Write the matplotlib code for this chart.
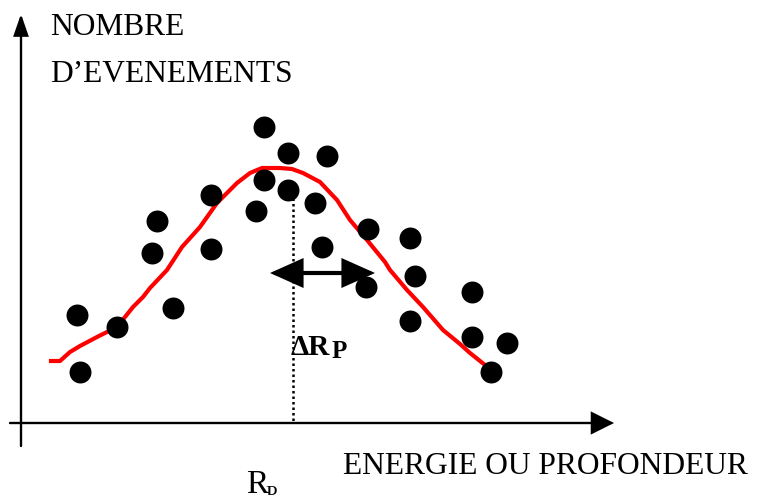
import matplotlib
matplotlib.use("Agg")
import matplotlib.pyplot as plt
from matplotlib.patches import FancyArrowPatch

# scatter of measured events (pixel-like coordinates of the sketch)
points_x = [77, 80, 117, 157, 152, 173, 211, 211, 264, 288, 264, 288, 256,
            315, 327, 322, 368, 366, 410, 415, 410, 472, 472, 507, 491]
points_y = [315, 372, 327, 221, 253, 308, 195, 249, 127, 153, 180, 190, 211,
            203, 156, 247, 229, 287, 238, 276, 321, 292, 337, 343, 372]

# hand drawn fit curve
curve_x = [51, 60, 70, 80, 97, 117, 133, 143, 150, 167, 182, 200, 217, 237,
           250, 262, 280, 292, 303, 320, 337, 350, 367, 385, 390, 407, 423,
           443, 460, 470, 485]
curve_y = [361, 361, 352, 346, 337, 327, 307, 297, 288, 270, 247, 227, 203,
           183, 173, 168, 168, 169, 173, 182, 200, 220, 240, 262, 270, 290,
           307, 330, 344, 353, 365]

rp = 293          # position of the peak
peak_y = 198
axis_y = 423
axis_x = 21
dr_left, dr_right, dr_y = 270, 375, 273

plt.rcParams["font.family"] = ["Liberation Serif", "DejaVu Serif"]

fig = plt.figure(figsize=(7.58, 4.95), dpi=100)
ax = fig.add_axes([0, 0, 1, 1])
ax.set_xlim(0, 758)
ax.set_ylim(495, 0)
ax.axis("off")


def arrow(p0, p1, style, lw, hl, hw):
    a = FancyArrowPatch(p0, p1, arrowstyle=f"{style},head_length={hl},head_width={hw}",
                        mutation_scale=1, color="black", lw=lw,
                        shrinkA=0, shrinkB=0, joinstyle="miter")
    ax.add_patch(a)


# axes arrows
arrow((10, axis_y), (614, axis_y), "-|>", 1.7, 14, 7)
arrow((axis_x, 446), (axis_x, 14), "-|>", 1.7, 13, 4.5)

# red curve
ax.plot(curve_x, curve_y, color="#ff0000", lw=3, solid_joinstyle="round")

# dots
ax.scatter(points_x, points_y, s=250, color="black", zorder=3, linewidths=0)

# dotted line at Rp
ax.plot([rp, rp], [peak_y, axis_y], color="black", lw=1.8,
        dashes=[1, 1.2], zorder=2)

# width arrow
arrow((dr_left, dr_y), (dr_right, dr_y), "<|-|>", 3, 19, 8.5)

# texts
fs = 22.7
ax.text(50, 35, "NOMBRE", fontsize=fs, va="baseline", ha="left")
ax.text(50, 82, "D\u2019EVENEMENTS", fontsize=fs, va="baseline", ha="left")
ax.text(343, 474, "ENERGIE OU PROFONDEUR", fontsize=fs, va="baseline", ha="left")

ax.text(246, 493, "R", fontsize=24, va="baseline", ha="left")
ax.text(265, 500, "P", fontsize=15, va="baseline", ha="left")

ax.text(291, 355, "\u0394R", fontsize=21, fontweight="bold", va="baseline", ha="left")
ax.text(332, 358, "P", fontsize=18, fontweight="bold", va="baseline", ha="left")

fig.savefig("out.png", dpi=100)
